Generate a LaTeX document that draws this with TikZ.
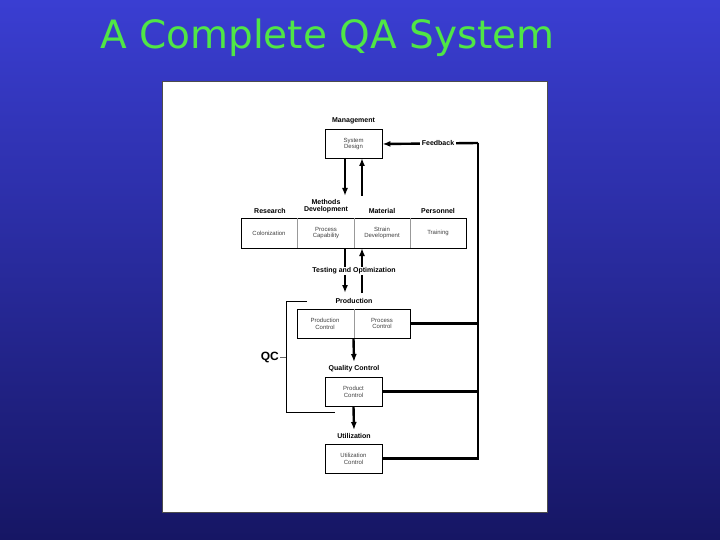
\documentclass[tikz,border=0pt]{standalone}
\usepackage{fontspec}
\setmainfont{Liberation Sans}
\newfontfamily\titlefont{DejaVu Sans}
\usetikzlibrary{arrows.meta}
\begin{document}
\begin{tikzpicture}[x=1pt,y=-1pt,
  box/.style={draw,line width=0.9pt,fill=white,minimum width=57pt,minimum height=29pt,inner sep=0pt,font=\fontsize{6}{6.8}\selectfont,text=black!75,align=center},
  cell/.style={font=\fontsize{6}{6.8}\selectfont,text=black!75,align=center},
  lbl/.style={font=\bfseries\fontsize{7}{7.6}\selectfont,align=center,inner sep=1pt},
  arr/.style={line width=2.4pt,-{Latex[length=8pt,width=6pt]}},
  fb/.style={line width=2.4pt}]
\shade[top color={rgb,255:red,58;green,62;blue,210},bottom color={rgb,255:red,22;green,22;blue,100}] (0,0) rectangle (720,540);
\useasboundingbox (0,0) rectangle (720,540);
\node[font=\titlefont\fontsize{39}{40}\selectfont,text={rgb,255:red,80;green,230;blue,70},anchor=west,inner sep=0pt] (title) at (100,38) {A Complete QA System};
\node[draw=black!70,fill=white,line width=1pt,minimum width=385pt,minimum height=430pt,inner sep=0pt] (panel) at (354.5,297) {};
\node[lbl] (mgmt) at (353.5,121) {Management};
\node[box] (sd) at (353.5,144) {System\\Design};
\node[box,minimum width=225pt,minimum height=30pt] (row) at (353.5,233) {};
\draw[black!40,line width=0.6pt] (297,218) -- (297,248) (354,218) -- (354,248) (410,218) -- (410,248);
\node[cell] (c1) at (269,233) {Colonization};
\node[cell] (c2) at (326,233) {Process\\Capability};
\node[cell] (c3) at (382,233) {Strain\\Development};
\node[cell] (c4) at (438,233) {Training};
\node[lbl] (h1) at (270,211) {Research};
\node[lbl] (h2) at (326,206) {Methods\\Development};
\node[lbl] (h3) at (382,211) {Material};
\node[lbl] (h4) at (438,211) {Personnel};
\draw[arr] (345,158) -- (345,196);
\draw[arr] (362,196) -- (362,158);
\draw[arr] (345,248) -- (345,293);
\draw[arr] (362,293) -- (362,248);
\node[lbl,fill=white] (test) at (354,271) {Testing and Optimization};
\node[lbl] (prodl) at (354,301) {Production};
\node[box,minimum width=113pt] (prod) at (353.5,323.5) {};
\draw[black!40,line width=0.6pt] (354,309) -- (354,338);
\node[cell] (p1) at (325,323.5) {Production\\Control};
\node[cell] (p2) at (382,323.5) {Process\\Control};
\node[lbl] (qcl) at (354,369) {Quality Control};
\node[box] (qc) at (353.5,391.5) {Product\\Control};
\node[lbl] (utl) at (354,436) {Utilization};
\node[box] (ut) at (353.5,458.5) {Utilization\\Control};
\draw[arr] (prod.south) -- (354,362);
\draw[arr] (qc.south) -- (354,430);
\coordinate (fr) at (478,143);
\draw[fb] (ut.east) -- (478,458.5) -- (fr);
\draw[arr] (fr) -- (sd.east);
\draw[fb] (qc.east) -- (478,391.5);
\draw[fb] (prod.east) -- (478,323.5);
\node[lbl,fill=white,inner sep=2pt] (fbl) at (438,143) {Feedback};
\draw[line width=0.8pt] (307,301) -- (286,301) -- (286,412) -- (335,412);
\draw[line width=0.5pt,black!60] (280,357) -- (286,357);
\node[font=\bfseries\fontsize{12}{13}\selectfont,anchor=east,inner sep=0pt] (qcb) at (279,357) {QC};
\end{tikzpicture}
\end{document}
